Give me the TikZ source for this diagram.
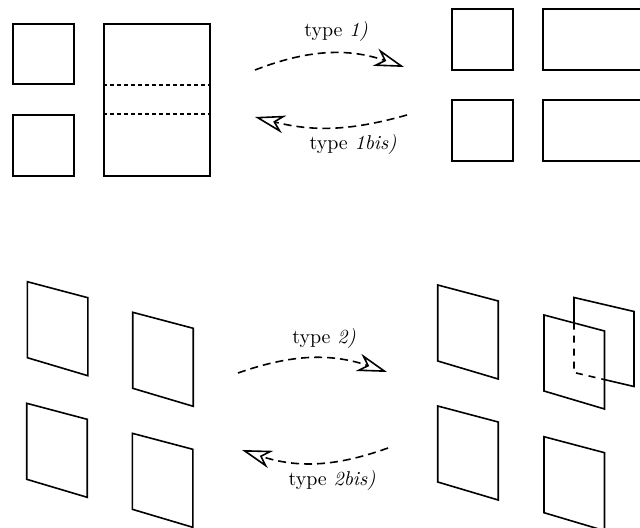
\documentclass[tikz,border=0pt]{standalone}
\usepackage{amsmath,amssymb}
\usepackage{tikz}
\usetikzlibrary{arrows.meta,positioning,calc}
\tikzstyle{block}=[draw,thick,rectangle,anchor=north west,inner sep=0pt]
\tikzstyle{morph}=[thick,dash pattern=on 4pt off 2.5pt,-{Stealth[open,length=15pt,width=9pt,inset=4.5pt]}]
\tikzstyle{cut}=[thick,dash pattern=on 2pt off 1.5pt]
\tikzstyle{plane}=[draw,thick,line join=miter]
\tikzstyle{hidden}=[thick,dash pattern=on 3.5pt off 3pt]

\begin{document}
\begin{tikzpicture}[x=0.5pt,y=0.5pt]
\useasboundingbox (0,0) rectangle (640,-528);

% type 1 : left side
\node [block,minimum width=30.5pt,minimum height=30.25pt] (a1) at (12,-23) {};
\node [block,minimum width=30.5pt,minimum height=30.5pt] (a2) at (12,-114) {};
\node [block,minimum width=53pt,minimum height=76pt] (big) at (103,-23) {};
\draw [cut] (big.west |- a1.south) -- (big.east |- a1.south);
\draw [cut] (big.west |- a2.north) -- (big.east |- a2.north);

% type 1 : right side
\node [block,minimum width=30.5pt,minimum height=30.5pt] (b1) at (451,-8) {};
\node [block,minimum width=30.5pt,minimum height=30.5pt] (b2) at (451,-99) {};
\node [block,minimum width=53pt,minimum height=30.5pt] (c1) at (542,-8) {};
\node [block,minimum width=53pt,minimum height=30.5pt] (c2) at (542,-99) {};

% type 1 arrows
\coordinate (s1) at (255,-70);
\coordinate (e1) at (404,-67);
\draw [morph] (s1) to[bend left=20] (e1);
\node (t1) at (336,-32) {type \emph{1)}};
\coordinate (s1b) at (407,-115);
\coordinate (e1b) at (255,-117);
\draw [morph] (s1b) to[bend left=15] (e1b);
\node (t1b) at (353,-145) {type \emph{1bis)}};

% type 2 : planes
\foreach \px/\py in {27.3/281.7, 132.7/312.3, 26.7/403.3, 132.3/433.3,
                     437.7/285, 437.7/406, 544/436.7, 544/315}
  \draw [plane] (\px,-\py) -- ++(60.5,-16) -- ++(0,-78) -- ++(-60.5,18) -- cycle;

% back plane, partly hidden
\coordinate (k1) at (574,-322.5);
\coordinate (k2) at (604,-379.5);
\draw [thick,line join=miter] (k1) -- (574,-297.5) -- (634,-311.5) -- (634,-386.5) -- (k2);
\draw [hidden] (k1) -- (574,-372.5) -- (k2);

% type 2 arrows
\coordinate (s2) at (238,-373);
\coordinate (e2) at (387,-372);
\draw [morph] (s2) to[bend left=19] (e2);
\node (t2) at (324,-338) {type \emph{2)}};
\coordinate (s2b) at (388,-448);
\coordinate (e2b) at (242,-450);
\draw [morph] (s2b) to[bend left=19] (e2b);
\node (t2b) at (332,-480) {type \emph{2bis)}};
\end{tikzpicture}
\end{document}
